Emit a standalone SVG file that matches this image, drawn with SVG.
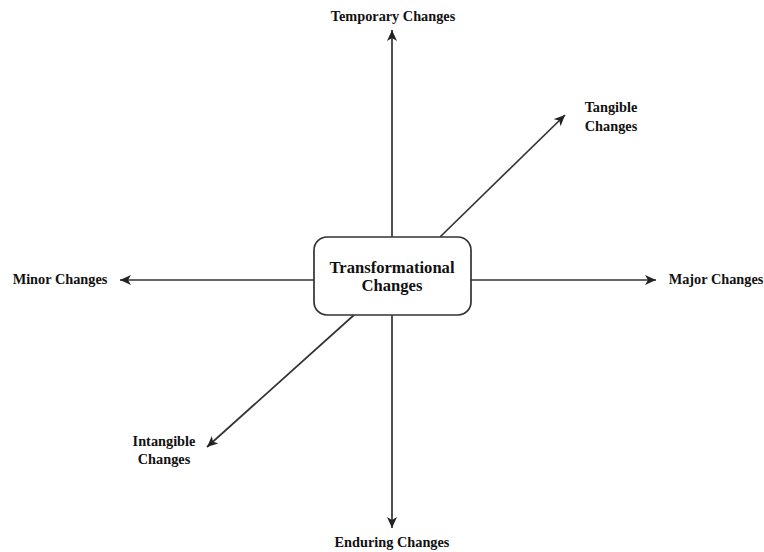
<svg xmlns="http://www.w3.org/2000/svg" width="764" height="552" viewBox="0 0 764 552">
<style>
.lbl{font-family:"Liberation Serif","Times New Roman",serif;font-weight:bold;font-size:14.3px;fill:#111;text-anchor:middle}
.ctr{font-family:"Liberation Serif","Times New Roman",serif;font-weight:bold;font-size:16.6px;fill:#111;text-anchor:middle}
.ln{stroke:#333;stroke-width:1.7;fill:none;marker-end:url(#ah)}
</style>
<defs>
<marker id="ah" viewBox="0 0 12 10" refX="11" refY="5" markerWidth="12" markerHeight="10" markerUnits="userSpaceOnUse" orient="auto">
<path d="M0,0 L11,5 L0,10 L3,5 Z" fill="#222"/>
</marker>
</defs>
<g id="connectors">
<line class="ln" x1="392" y1="237" x2="392" y2="30"/>
<line class="ln" x1="392" y1="315" x2="392" y2="528"/>
<line class="ln" x1="314" y1="280" x2="120" y2="280"/>
<line class="ln" x1="471" y1="280" x2="656" y2="280"/>
<line class="ln" x1="440" y1="237" x2="565" y2="115"/>
<line class="ln" x1="354" y1="315" x2="207" y2="447"/>
</g>
<g id="center">
<rect x="314" y="237" width="157" height="78" rx="13" ry="13" fill="#fff" stroke="#333" stroke-width="1.7"/>
<text class="ctr" x="392" y="273">Transformational</text>
<text class="ctr" x="392" y="291">Changes</text>
</g>
<g id="temporary"><text class="lbl" x="393" y="21">Temporary Changes</text></g>
<g id="tangible"><text class="lbl" x="611" y="112">Tangible</text><text class="lbl" x="611" y="131">Changes</text></g>
<g id="minor"><text class="lbl" x="60" y="284">Minor Changes</text></g>
<g id="major"><text class="lbl" x="716" y="284">Major Changes</text></g>
<g id="intangible"><text class="lbl" x="164" y="446">Intangible</text><text class="lbl" x="164" y="464">Changes</text></g>
<g id="enduring"><text class="lbl" x="392" y="547">Enduring Changes</text></g>
</svg>
